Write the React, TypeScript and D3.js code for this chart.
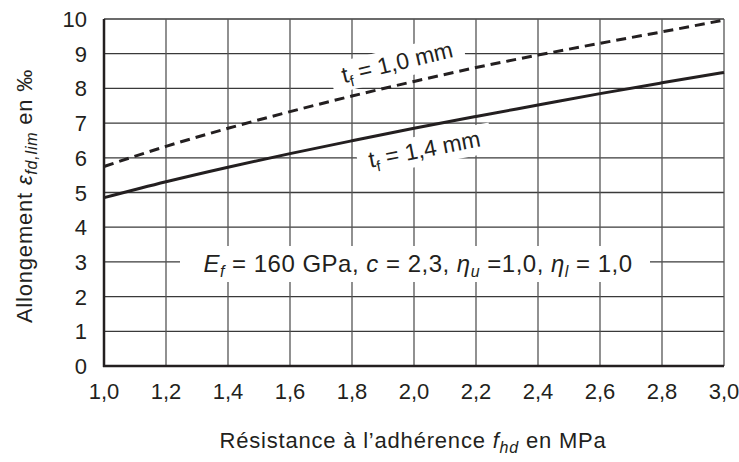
import React from "react";
import * as d3 from "d3";

const xValues = [1.0, 1.2, 1.4, 1.6, 1.8, 2.0, 2.2, 2.4, 2.6, 2.8, 3.0];
const seriesT10 = [5.75, 6.33, 6.85, 7.33, 7.78, 8.2, 8.6, 8.96, 9.3, 9.63, 9.97];
const seriesT14 = [4.85, 5.31, 5.73, 6.12, 6.49, 6.85, 7.19, 7.52, 7.85, 8.16, 8.46];
const xTicks = [1.0, 1.2, 1.4, 1.6, 1.8, 2.0, 2.2, 2.4, 2.6, 2.8, 3.0];
const yTicks = [0, 1, 2, 3, 4, 5, 6, 7, 8, 9, 10];

const W = 739;
const H = 462;
const M = { left: 104, right: 724, top: 19, bottom: 366 };
const FONT = "'Liberation Sans', Arial, sans-serif";
const INK = "#231f20";

export default function App() {
  const x = d3.scaleLinear().domain([1, 3]).range([M.left, M.right]);
  const y = d3.scaleLinear().domain([0, 10]).range([M.bottom, M.top]);
  const line = d3
    .line<[number, number]>()
    .x((d) => x(d[0]))
    .y((d) => y(d[1]))
    .curve(d3.curveMonotoneX);
  const d10 = line(xValues.map((v, i) => [v, seriesT10[i]]) as [number, number][]) || "";
  const d14 = line(xValues.map((v, i) => [v, seriesT14[i]]) as [number, number][]) || "";
  const fmt = (v: number) => v.toFixed(1).replace(".", ",");

  return (
    <svg
      width={W}
      height={H}
      style={{ position: "absolute", left: 0, top: 0, background: "#fff" }}
      fontFamily={FONT}
    >
      <rect x={0} y={0} width={W} height={H} fill="#fff" />
      {/* grid */}
      {yTicks.map((t) => (
        <line key={"gy" + t} x1={M.left} x2={M.right} y1={y(t)} y2={y(t)} stroke="#3a3a3a" strokeWidth={1.3} />
      ))}
      {xTicks.map((t) => (
        <line key={"gx" + t} x1={x(t)} x2={x(t)} y1={M.top} y2={M.bottom} stroke="#555" strokeWidth={1.3} />
      ))}
      {/* curves */}
      <path d={d10} fill="none" stroke={INK} strokeWidth={3} strokeDasharray="10 6" />
      <path d={d14} fill="none" stroke={INK} strokeWidth={3} />
      {/* frame left & bottom */}
      <line x1={M.left} x2={M.left} y1={M.top} y2={M.bottom + 1} stroke={INK} strokeWidth={2.5} />
      <line x1={M.left - 1} x2={M.right} y1={M.bottom} y2={M.bottom} stroke={INK} strokeWidth={2.5} />

      {/* label t_f = 1,0 mm */}
      <g transform={`translate(399,70) rotate(-13.5)`}>
        <rect x={-68} y={-22} width={136} height={30} fill="#fff" />
        <text x={0} y={0} textAnchor="middle" fontSize={23} fill={INK}>
          t<tspan fontSize={15} dy={5}>f</tspan>
          <tspan dy={-5}> = 1,0 mm</tspan>
        </text>
      </g>
      {/* label t_f = 1,4 mm */}
      <g transform={`translate(426,157) rotate(-11)`}>
        <rect x={-68} y={-22} width={136} height={30} fill="#fff" />
        <text x={0} y={0} textAnchor="middle" fontSize={23} fill={INK}>
          t<tspan fontSize={15} dy={5}>f</tspan>
          <tspan dy={-5}> = 1,4 mm</tspan>
        </text>
      </g>

      {/* parameters annotation */}
      <rect x={180} y={246} width={470} height={36} fill="#fff" />
      <text x={418} y={272} textAnchor="middle" fontSize={24} letterSpacing={0.5} fill={INK}>
        <tspan fontStyle="italic">E</tspan>
        <tspan fontStyle="italic" fontSize={16} dy={5}>f</tspan>
        <tspan dy={-5}> = 160 GPa, </tspan>
        <tspan fontStyle="italic">c</tspan>
        <tspan> = 2,3, </tspan>
        <tspan fontStyle="italic">η</tspan>
        <tspan fontStyle="italic" fontSize={16} dy={5}>u</tspan>
        <tspan dy={-5}> =1,0, </tspan>
        <tspan fontStyle="italic">η</tspan>
        <tspan fontStyle="italic" fontSize={16} dy={5}>l</tspan>
        <tspan dy={-5}> = 1,0</tspan>
      </text>

      {/* y tick labels */}
      {yTicks.map((t) => (
        <text key={"ly" + t} x={87} y={y(t) + 8} textAnchor="end" fontSize={22} fill={INK}>
          {t}
        </text>
      ))}
      {/* x tick labels */}
      {xTicks.map((t) => (
        <text key={"lx" + t} x={x(t)} y={399} textAnchor="middle" fontSize={22} fill={INK}>
          {fmt(t)}
        </text>
      ))}

      {/* x axis title */}
      <text x={413} y={448} textAnchor="middle" fontSize={22} letterSpacing={0.8} fill={INK}>
        Résistance à l’adhérence{" "}
        <tspan fontStyle="italic">f</tspan>
        <tspan fontStyle="italic" fontSize={16} dy={5}>hd</tspan>
        <tspan dy={-5}> en MPa</tspan>
      </text>

      {/* y axis title */}
      <text transform="translate(32,196) rotate(-90)" textAnchor="middle" fontSize={22} letterSpacing={0.8} fill={INK}>
        Allongement{" "}
        <tspan fontStyle="italic">ε</tspan>
        <tspan fontStyle="italic" fontSize={16} dy={5}>fd,lim</tspan>
        <tspan dy={-5}> en ‰</tspan>
      </text>
    </svg>
  );
}
